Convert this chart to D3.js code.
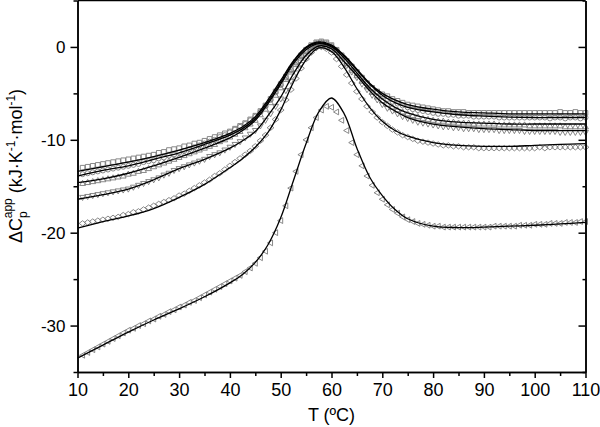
<html>
<head>
<script src="https://cdnjs.cloudflare.com/ajax/libs/d3/7.8.5/d3.min.js"></script>
<style>
  body { margin: 0; background: #fff; }
  text { font-family: "Liberation Sans", Arial, sans-serif; }
</style>
</head>
<body>
<svg id="plot" width="600" height="427"></svg>
<script>

	// temperatures of the measured points (one every degree)
	var dataT = d3.range(11, 111, 1)
	// temperatures where the fitted curves are read
	var fitT = [10,15,20,25,30,35,40,42.5,45,47.5,50,52.5,55,57.5,60,62.5,65,67.5,70,72.5,75,80,85,90,95,100,105,110]

	var xTicks = [10,20,30,40,50,60,70,80,90,100,110]
	var yTicks = [0,-10,-20,-30]

	// measured points
	var squaresData = [
		-13.0,-12.9,-12.8,-12.7,-12.6,-12.5,-12.4,-12.3,-12.2,-12.1,
		-12.0,-11.9,-11.8,-11.7,-11.6,-11.4,-11.3,-11.1,-11.0,-10.9,
		-10.7,-10.6,-10.4,-10.3,-10.1,-9.9,-9.7,-9.5,-9.3,-9.1,
		-8.8,-8.5,-8.2,-7.8,-7.4,-6.9,-6.3,-5.6,-4.8,-4.0,
		-3.2,-2.4,-1.6,-0.9,-0.3,0.2,0.5,0.6,0.5,0.2,
		-0.3,-0.9,-1.5,-2.1,-2.7,-3.3,-3.9,-4.4,-4.8,-5.1,
		-5.3,-5.6,-5.8,-6.0,-6.2,-6.3,-6.4,-6.5,-6.6,-6.7,
		-6.8,-6.9,-6.9,-7.0,-7.0,-7.0,-7.1,-7.1,-7.1,-7.1,
		-7.1,-7.1,-7.1,-7.1,-7.1,-7.1,-7.1,-7.1,-7.1,-7.1,
		-7.1,-7.1,-7.1,-7.1,-7.0,-7.1,-7.1,-7.0,-7.1,-7.1]
	var circlesData = [
		-13.7,-13.6,-13.5,-13.4,-13.3,-13.2,-13.1,-13.0,-12.9,-12.8,
		-12.7,-12.6,-12.4,-12.3,-12.2,-12.0,-11.9,-11.7,-11.6,-11.4,
		-11.2,-11.0,-10.8,-10.6,-10.4,-10.2,-10.0,-9.7,-9.5,-9.2,
		-8.9,-8.6,-8.3,-7.9,-7.5,-7.0,-6.4,-5.7,-4.9,-4.1,
		-3.3,-2.5,-1.7,-1.0,-0.4,0.1,0.4,0.5,0.4,0.1,
		-0.4,-1.0,-1.6,-2.2,-2.8,-3.4,-4.0,-4.5,-4.9,-5.3,
		-5.6,-5.9,-6.1,-6.3,-6.5,-6.7,-6.8,-6.9,-7.0,-7.1,
		-7.2,-7.2,-7.3,-7.3,-7.4,-7.4,-7.4,-7.5,-7.5,-7.5,
		-7.5,-7.5,-7.6,-7.6,-7.6,-7.6,-7.6,-7.6,-7.6,-7.6,
		-7.6,-7.6,-7.7,-7.6,-7.6,-7.7,-7.6,-7.6,-7.7,-7.6]
	var upData = [
		-14.7,-14.6,-14.5,-14.4,-14.3,-14.2,-14.1,-14.0,-13.9,-13.7,
		-13.6,-13.4,-13.3,-13.1,-12.9,-12.7,-12.5,-12.3,-12.1,-11.9,
		-11.7,-11.5,-11.3,-11.1,-10.9,-10.7,-10.5,-10.2,-10.0,-9.7,
		-9.4,-9.1,-8.7,-8.3,-7.9,-7.3,-6.7,-6.0,-5.2,-4.4,
		-3.5,-2.7,-1.9,-1.2,-0.5,0.0,0.3,0.4,0.3,0.0,
		-0.6,-1.2,-1.8,-2.5,-3.1,-3.7,-4.3,-4.9,-5.4,-5.8,
		-6.2,-6.5,-6.8,-7.0,-7.2,-7.4,-7.5,-7.7,-7.8,-7.9,
		-8.0,-8.0,-8.1,-8.1,-8.2,-8.2,-8.2,-8.3,-8.3,-8.3,
		-8.3,-8.3,-8.4,-8.4,-8.4,-8.4,-8.4,-8.4,-8.5,-8.5,
		-8.5,-8.5,-8.5,-8.5,-8.5,-8.6,-8.6,-8.6,-8.6,-8.6]
	var downData = [
		-16.2,-16.1,-16.0,-15.9,-15.8,-15.7,-15.6,-15.5,-15.4,-15.3,
		-15.1,-14.9,-14.7,-14.5,-14.3,-14.1,-13.8,-13.6,-13.3,-13.1,
		-12.9,-12.7,-12.5,-12.3,-12.1,-11.8,-11.6,-11.4,-11.1,-10.8,
		-10.5,-10.2,-9.8,-9.4,-9.0,-8.5,-7.9,-7.2,-6.4,-5.6,
		-4.7,-3.7,-2.8,-1.9,-1.1,-0.5,-0.1,0.1,0.0,-0.3,
		-0.8,-1.4,-2.0,-2.7,-3.3,-4.0,-4.6,-5.2,-5.7,-6.2,
		-6.6,-6.9,-7.2,-7.5,-7.7,-7.9,-8.1,-8.2,-8.3,-8.4,
		-8.5,-8.6,-8.6,-8.7,-8.7,-8.8,-8.8,-8.8,-8.9,-8.9,
		-8.9,-8.9,-9.0,-9.0,-9.0,-9.0,-9.0,-9.1,-9.1,-9.1,
		-9.1,-9.1,-9.1,-9.1,-9.2,-9.2,-9.2,-9.2,-9.2,-9.2]
	var diamondsData = [
		-19.0,-18.9,-18.8,-18.7,-18.6,-18.5,-18.4,-18.3,-18.1,-18.0,
		-17.8,-17.7,-17.5,-17.3,-17.1,-16.9,-16.7,-16.5,-16.3,-16.0,
		-15.8,-15.5,-15.2,-14.9,-14.6,-14.3,-13.9,-13.6,-13.2,-12.8,
		-12.4,-12.0,-11.6,-11.2,-10.7,-10.1,-9.5,-8.7,-7.8,-6.8,
		-5.7,-4.6,-3.4,-2.3,-1.3,-0.6,-0.1,0.0,-0.2,-0.6,
		-1.3,-2.1,-3.0,-3.9,-4.8,-5.6,-6.4,-7.0,-7.6,-8.1,
		-8.5,-8.9,-9.2,-9.5,-9.7,-9.9,-10.1,-10.2,-10.3,-10.4,
		-10.5,-10.6,-10.6,-10.7,-10.7,-10.8,-10.8,-10.8,-10.9,-10.9,
		-10.9,-10.9,-10.9,-10.9,-10.9,-10.9,-10.9,-10.9,-10.9,-10.9,
		-10.8,-10.9,-10.8,-10.8,-10.8,-10.8,-10.8,-10.8,-10.8,-10.8]
	var leftData = [
		-33.2,-32.9,-32.6,-32.3,-32.0,-31.7,-31.4,-31.1,-30.8,-30.5,
		-30.3,-30.0,-29.8,-29.5,-29.3,-29.0,-28.8,-28.5,-28.3,-28.0,
		-27.8,-27.5,-27.3,-27.0,-26.7,-26.4,-26.1,-25.8,-25.5,-25.2,
		-24.9,-24.6,-24.2,-23.8,-23.3,-22.7,-22.0,-21.1,-20.0,-18.7,
		-17.1,-15.2,-13.4,-11.6,-10.0,-8.7,-7.6,-6.8,-6.4,-6.5,
		-7.0,-7.9,-9.0,-10.3,-11.6,-12.8,-13.9,-14.9,-15.7,-16.4,
		-17.0,-17.5,-17.9,-18.3,-18.6,-18.8,-19.0,-19.1,-19.2,-19.3,
		-19.3,-19.4,-19.4,-19.4,-19.4,-19.4,-19.4,-19.4,-19.4,-19.4,
		-19.4,-19.3,-19.3,-19.3,-19.3,-19.3,-19.2,-19.2,-19.2,-19.1,
		-19.1,-19.1,-19.0,-19.0,-19.0,-18.9,-18.9,-18.9,-18.8,-18.8]

	// fitted curves
	var squaresFit  = [-13.4,-12.9,-12.4,-11.8,-11.1,-10.3,-9.3,-8.6,-7.5,-5.7,-3.6,-1.5,0.0,0.55,0.2,-0.9,-2.4,-3.9,-5.0,-5.7,-6.2,-6.7,-7.0,-7.1,-7.2,-7.2,-7.2,-7.2]
	var circlesFit  = [-13.9,-13.3,-12.8,-12.1,-11.4,-10.5,-9.5,-8.8,-7.7,-5.9,-3.8,-1.6,-0.1,0.45,0.1,-1.0,-2.5,-4.0,-5.2,-6.0,-6.5,-7.0,-7.3,-7.45,-7.55,-7.6,-7.6,-7.6]
	var upFit       = [-14.6,-14.2,-13.6,-12.8,-11.9,-10.9,-9.8,-9.0,-7.9,-6.1,-4.0,-1.8,-0.3,0.35,0.0,-1.2,-2.8,-4.4,-5.6,-6.5,-7.1,-7.8,-8.1,-8.2,-8.3,-8.3,-8.3,-8.3]
	var downFit     = [-16.4,-15.9,-15.3,-14.3,-13.1,-12.1,-10.9,-10.1,-9.1,-7.4,-5.4,-2.9,-0.9,0.1,-0.2,-1.6,-3.1,-4.7,-6.0,-6.9,-7.6,-8.3,-8.6,-8.8,-8.9,-9.0,-9.0,-9.0]
	var diamondsFit = [-19.5,-18.8,-18.2,-17.4,-16.2,-14.8,-13.0,-12.0,-10.8,-9.2,-6.8,-3.8,-1.4,-0.1,-0.5,-2.2,-4.5,-6.5,-8.0,-9.0,-9.6,-10.3,-10.6,-10.7,-10.7,-10.6,-10.5,-10.4]
	var leftFit     = [-33.5,-32.1,-30.7,-29.4,-28.2,-26.9,-25.4,-24.5,-23.2,-21.3,-18.4,-14.4,-10.4,-7.0,-5.5,-7.2,-10.9,-14.0,-16.0,-17.5,-18.5,-19.3,-19.45,-19.4,-19.3,-19.2,-19.05,-18.9]

	// marker shapes, drawn around (0,0)
	var shapes = {
		square:  "M-2.3,-2.3H2.3V2.3H-2.3Z",
		circle:  "M2.5,0A2.5,2.5 0 1,1 -2.5,0A2.5,2.5 0 1,1 2.5,0Z",
		up:      "M0,-3.1L2.9,2L-2.9,2Z",
		down:    "M0,3.1L2.9,-2L-2.9,-2Z",
		diamond: "M0,-2.7L3.4,0L0,2.7L-3.4,0Z",
		left:    "M-3.1,0L2,-2.9L2,2.9Z"
	}

	var series = [
		{data: squaresData,  fit: squaresFit,  shape: "square"},
		{data: circlesData,  fit: circlesFit,  shape: "circle"},
		{data: upData,       fit: upFit,       shape: "up"},
		{data: downData,     fit: downFit,     shape: "down"},
		{data: diamondsData, fit: diamondsFit, shape: "diamond"},
		{data: leftData,     fit: leftFit,     shape: "left"}
	]

	// plot box (window.top is read-only, so no bare "top" here)
	var plotL = 77.5, plotR = 585.5, plotT = 0.5, plotB = 372
	var svg = d3.select("#plot")

	var x = d3.scaleLinear().domain([10, 110]).range([plotL, plotR])
	var y = d3.scaleLinear().domain([-35, 5]).range([plotB, plotT])

	// markers
	series.forEach(function(s) {
		svg.append("g")
		   .selectAll("path")
		   .data(s.data)
		   .enter().append("path")
		   .attr("d", shapes[s.shape])
		   .attr("transform", (d, i) => "translate(" + x(dataT[i]) + "," + y(d) + ")")
		   .attr("fill", "none")
		   .attr("stroke", "#7a7a7a")
		   .attr("stroke-width", 0.9)
	})

	// fitted lines
	var line = d3.line()
		.x((d, i) => x(fitT[i]))
		.y(d => y(d))
		.curve(d3.curveCatmullRom.alpha(0.5))

	series.forEach(function(s) {
		svg.append("path")
		   .attr("d", line(s.fit))
		   .attr("fill", "none")
		   .attr("stroke", "#000")
		   .attr("stroke-width", 1.3)
	})

	// axes
	function styleAxis(g) {
		g.selectAll("path, line").attr("stroke", "#000").attr("stroke-width", 1.5)
		g.selectAll("text").attr("fill", "#000").style("font-family", "'Liberation Sans', Arial, sans-serif")
	}

	svg.append("g")
	   .attr("transform", "translate(0," + plotB + ")")
	   .call(d3.axisBottom(x).tickValues(d3.range(15, 110, 10)).tickSize(4).tickFormat("").tickSizeOuter(0))
	   .call(styleAxis)
	svg.append("g")
	   .attr("transform", "translate(0," + plotB + ")")
	   .call(d3.axisBottom(x).tickValues(xTicks).tickSize(6).tickPadding(5).tickSizeOuter(0))
	   .call(styleAxis)
	   .selectAll("text").style("font-size", "18px")

	svg.append("g")
	   .attr("transform", "translate(" + plotL + ",0)")
	   .call(d3.axisLeft(y).tickValues([5,-5,-15,-25,-35]).tickSize(4).tickFormat("").tickSizeOuter(0))
	   .call(styleAxis)
	svg.append("g")
	   .attr("transform", "translate(" + plotL + ",0)")
	   .call(d3.axisLeft(y).tickValues(yTicks).tickSize(7).tickPadding(5).tickSizeOuter(0)
	           .tickFormat(d => String(d)))
	   .call(styleAxis)
	   .selectAll("text").style("font-size", "17px")

	// right side, ticks pointing in
	svg.append("g")
	   .attr("transform", "translate(" + plotR + ",0)")
	   .call(d3.axisLeft(y).tickValues([5,-5,-15,-25,-35]).tickSize(3).tickFormat("").tickSizeOuter(0))
	   .call(styleAxis)
	svg.append("g")
	   .attr("transform", "translate(" + plotR + ",0)")
	   .call(d3.axisLeft(y).tickValues(yTicks).tickSize(7).tickFormat("").tickSizeOuter(0))
	   .call(styleAxis)

	svg.append("line")
	   .attr("x1", plotL).attr("x2", plotR)
	   .attr("y1", plotT).attr("y2", plotT)
	   .attr("stroke", "#000").attr("stroke-width", 1.5)

	// axis titles
	svg.append("text")
	   .attr("x", (plotL + plotR) / 2)
	   .attr("y", 421)
	   .attr("text-anchor", "middle")
	   .style("font-size", "18px")
	   .text("T (ºC)")

	var yt = svg.append("text")
	   .attr("transform", "translate(22,243) rotate(-90)")
	   .style("font-size", "18px")
	yt.append("tspan").text("ΔC")
	yt.append("tspan").attr("dy", 5).style("font-size", "12px").text("p")
	yt.append("tspan").attr("dx", -7).attr("dy", -15).style("font-size", "12px").text("app")
	yt.append("tspan").attr("dy", 10).text(" (kJ·K")
	yt.append("tspan").attr("dy", -7).style("font-size", "12px").text("-1")
	yt.append("tspan").attr("dy", 7).text("·mol")
	yt.append("tspan").attr("dy", -7).style("font-size", "12px").text("-1")
	yt.append("tspan").attr("dy", 7).text(")")

</script>
</body>
</html>
